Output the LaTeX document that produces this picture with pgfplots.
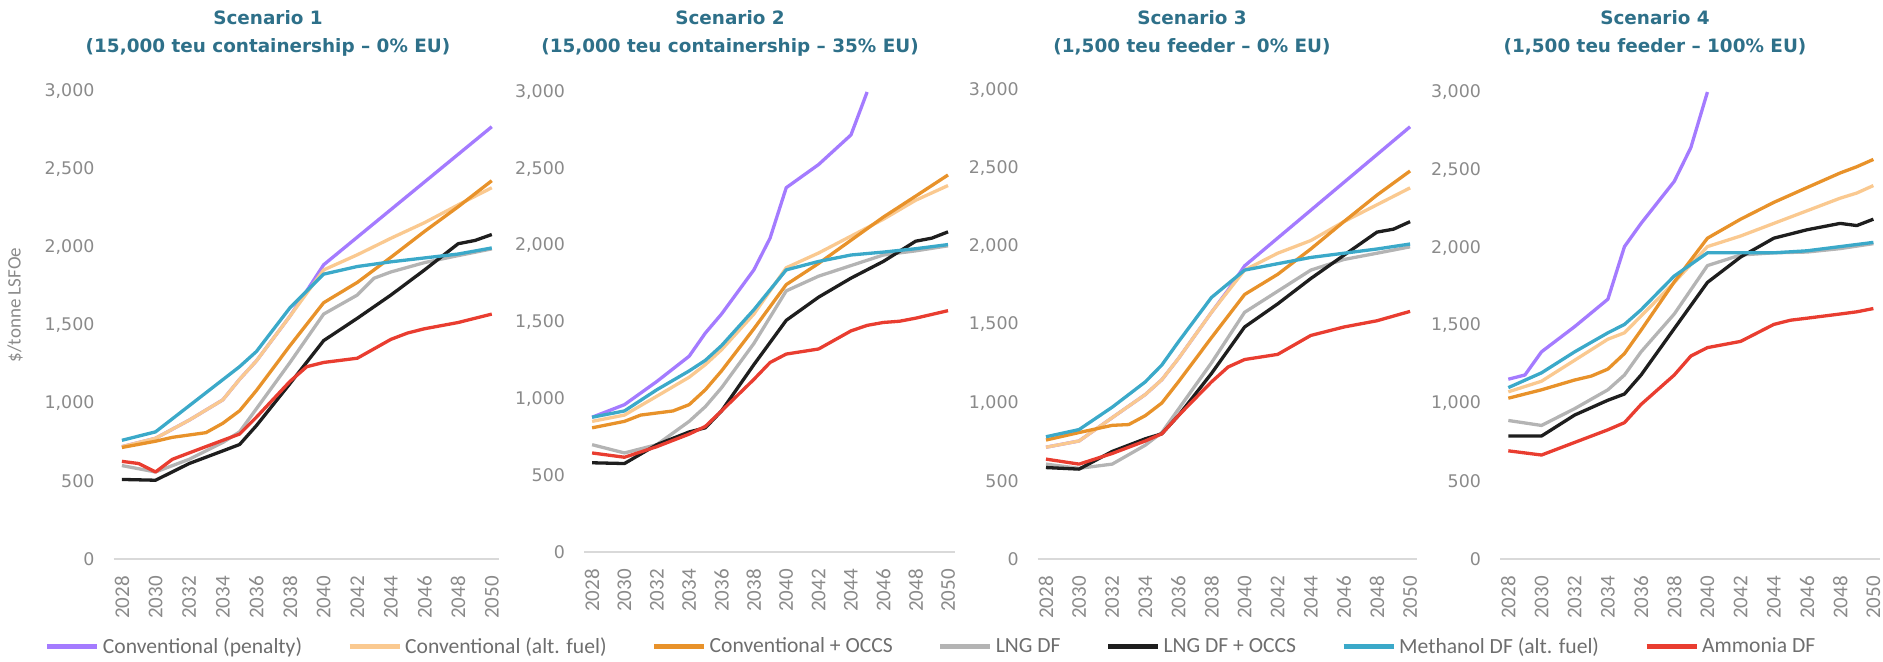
\documentclass[border=0pt]{standalone}
\usepackage{pgfplots}
\pgfplotsset{compat=1.18}
\usepackage{fontspec}
\setmainfont{Carlito}
\newfontfamily\titlefont{DejaVu Sans}
\newfontfamily\tickfont{DejaVu Sans}
\definecolor{cpurple}{HTML}{A47BFF}
\definecolor{clight}{HTML}{FAC990}
\definecolor{corange}{HTML}{E8922A}
\definecolor{cgray}{HTML}{B4B4B4}
\definecolor{cblack}{HTML}{1E1E1E}
\definecolor{ccyan}{HTML}{3BA9C9}
\definecolor{cred}{HTML}{E93D30}
\definecolor{ctitle}{HTML}{2E7089}
\definecolor{ctick}{HTML}{8A8A8A}
\definecolor{caxis}{HTML}{D9D9D9}
\definecolor{clegend}{HTML}{6E6E6E}

\pgfplotsset{
  pan/.style={
    scale only axis,
    anchor=south west,
    xmin=2027.5, xmax=2050.4,
    ymin=0, ymax=3000,
    clip=false,
    axis x line*=bottom, axis y line*=left,
    x axis line style={-, draw=caxis, line width=0.9pt},
    y axis line style={draw=none},
    major tick length=0pt,
    xtick={2028,2030,2032,2034,2036,2038,2040,2042,2044,2046,2048,2050},
    xticklabels={2028,2030,2032,2034,2036,2038,2040,2042,2044,2046,2048,2050},
    ytick={0,500,1000,1500,2000,2500,3000},
    /pgf/number format/.cd, 1000 sep={,}, assume math mode=true, /pgfplots/.cd,
    yticklabel style={font=\tickfont\fontsize{8.7}{10}\selectfont, text=ctick, xshift=-6pt},
    x tick label style={yshift=-5pt, rotate=90, anchor=east, font=\fontsize{10.5}{12}\selectfont, text=ctick},
    every axis plot/.append style={line width=1.65pt, line join=round, mark=none},
  },
}

\begin{document}
\begin{tikzpicture}[x=0.5pt,y=0.5pt]
\useasboundingbox (0,0) rectangle (1883,661);
\coordinate (p1) at (113.5,102);
\coordinate (p2) at (584,109);
\coordinate (p3) at (1037.7,102);
\coordinate (p4) at (1500,102);

% ---------------- Panel 1 ----------------
\begin{axis}[pan, at={(p1)}, width=192.5pt, height=234pt,
  legend columns=7,
  legend style={at={(-0.178,-0.188)}, anchor=west, draw=none, fill=none,
    inner sep=0pt, outer sep=0pt,
    nodes={inner xsep=1.5pt, inner ysep=0pt},
    font=\fontsize{10.8}{12}\selectfont, text=clegend,
    /tikz/every even column/.append style={column sep=21pt}},
  legend cell align=left,
  legend image code/.code={\draw[#1, line width=2.5pt] (0pt,0pt) -- (25pt,0pt);},
]
\addplot[cpurple] coordinates {(2028,720)(2030,774)(2032,890)(2034,1020)(2035,1152)(2036,1270)(2038,1557)(2039,1720)(2040,1886)(2050,2771)};
\addlegendentry{Conventional (penalty)}
\addplot[clight] coordinates {(2028,720)(2030,774)(2032,890)(2034,1020)(2035,1152)(2036,1270)(2038,1557)(2040,1853)(2042,1950)(2044,2056)(2046,2156)(2048,2270)(2050,2380)};
\addlegendentry{Conventional (alt. fuel)}
\addplot[corange] coordinates {(2028,715)(2030,755)(2031,780)(2033,810)(2034,870)(2035,950)(2036,1080)(2038,1368)(2040,1643)(2042,1773)(2044,1934)(2046,2100)(2048,2258)(2050,2425)};
\addlegendentry{Conventional + OCCS}
\addplot[cgray] coordinates {(2028,599)(2030,558)(2032,639)(2034,747)(2035,815)(2036,963)(2038,1260)(2040,1570)(2042,1692)(2043,1800)(2044,1840)(2046,1900)(2048,1945)(2050,1988)};
\addlegendentry{LNG DF}
\addplot[cblack] coordinates {(2028,510)(2030,505)(2032,612)(2034,693)(2035,734)(2036,855)(2038,1125)(2040,1400)(2042,1543)(2044,1692)(2046,1853)(2048,2021)(2049,2042)(2050,2080)};
\addlegendentry{LNG DF + OCCS}
\addplot[ccyan] coordinates {(2028,761)(2030,815)(2035,1233)(2036,1330)(2038,1611)(2040,1826)(2042,1875)(2044,1905)(2046,1930)(2048,1955)(2050,1994)};
\addlegendentry{Methanol DF (alt. fuel)}
\addplot[cred] coordinates {(2028,626)(2029,612)(2030,558)(2031,639)(2032,680)(2034,761)(2035,801)(2036,909)(2038,1139)(2039,1233)(2040,1260)(2042,1287)(2044,1408)(2045,1449)(2046,1476)(2048,1516)(2050,1570)};
\addlegendentry{Ammonia DF}
\end{axis}

% ---------------- Panel 2 ----------------
\begin{axis}[pan, at={(p2)}, width=185.25pt, height=230pt]
\addplot[cpurple] coordinates {(2028,879)(2030,961)(2032,1112)(2034,1277)(2035,1428)(2036,1552)(2038,1840)(2039,2047)(2040,2376)(2042,2527)(2044,2720)(2045,3000)};
\addplot[clight] coordinates {(2028,852)(2030,893)(2032,1016)(2034,1140)(2035,1222)(2036,1319)(2038,1552)(2040,1854)(2042,1950)(2044,2060)(2046,2170)(2048,2294)(2050,2390)};
\addplot[corange] coordinates {(2028,810)(2030,852)(2031,893)(2033,920)(2034,961)(2035,1058)(2036,1181)(2038,1456)(2040,1744)(2042,1882)(2044,2033)(2046,2184)(2048,2321)(2050,2459)};
\addplot[cgray] coordinates {(2028,700)(2030,646)(2032,700)(2034,852)(2035,948)(2036,1071)(2038,1360)(2040,1703)(2042,1799)(2044,1868)(2046,1937)(2048,1964)(2050,1997)};
\addplot[cblack] coordinates {(2028,582)(2030,577)(2032,700)(2034,783)(2035,810)(2036,920)(2038,1222)(2040,1511)(2042,1662)(2044,1786)(2046,1895)(2048,2027)(2049,2047)(2050,2088)};
\addplot[ccyan] coordinates {(2028,879)(2030,920)(2032,1058)(2034,1181)(2035,1250)(2036,1346)(2038,1580)(2040,1840)(2042,1895)(2044,1937)(2046,1956)(2048,1978)(2050,2005)};
\addplot[cred] coordinates {(2028,646)(2030,618)(2032,687)(2034,769)(2035,819)(2036,920)(2038,1126)(2039,1236)(2040,1291)(2042,1324)(2044,1442)(2045,1478)(2046,1497)(2047,1505)(2048,1525)(2050,1574)};
\end{axis}

% ---------------- Panel 3 ----------------
\begin{axis}[pan, at={(p3)}, width=189.5pt, height=234.5pt]
\addplot[cpurple] coordinates {(2028,715)(2030,755)(2032,904)(2034,1052)(2035,1147)(2036,1282)(2038,1578)(2039,1720)(2040,1875)(2050,2765)};
\addplot[clight] coordinates {(2028,715)(2030,755)(2032,904)(2034,1052)(2035,1147)(2036,1282)(2038,1578)(2040,1848)(2042,1956)(2044,2037)(2046,2158)(2048,2266)(2050,2374)};
\addplot[corange] coordinates {(2028,761)(2030,809)(2032,855)(2033,860)(2034,917)(2035,998)(2036,1133)(2038,1416)(2040,1692)(2042,1821)(2044,1983)(2046,2158)(2048,2328)(2050,2482)};
\addplot[cgray] coordinates {(2028,607)(2030,580)(2032,607)(2034,728)(2035,809)(2036,958)(2038,1255)(2040,1578)(2042,1713)(2044,1848)(2046,1916)(2048,1956)(2050,1997)};
\addplot[cblack] coordinates {(2028,585)(2030,575)(2032,688)(2034,769)(2035,801)(2036,917)(2038,1187)(2040,1484)(2042,1632)(2044,1794)(2046,1943)(2048,2091)(2049,2110)(2050,2158)};
\addplot[ccyan] coordinates {(2028,782)(2030,828)(2032,971)(2034,1133)(2035,1241)(2036,1389)(2038,1673)(2040,1848)(2042,1889)(2044,1929)(2046,1956)(2048,1983)(2050,2015)};
\addplot[cred] coordinates {(2028,639)(2030,607)(2032,675)(2034,755)(2035,801)(2036,917)(2038,1133)(2039,1228)(2040,1276)(2042,1309)(2044,1430)(2045,1457)(2046,1484)(2048,1524)(2050,1584)};
\end{axis}

% ---------------- Panel 4 ----------------
\begin{axis}[pan, at={(p4)}, width=190pt, height=233.5pt]
\addplot[cpurple] coordinates {(2028,1155)(2029,1182)(2030,1331)(2032,1493)(2034,1669)(2035,2007)(2036,2156)(2038,2426)(2039,2643)(2040,3000)};
\addplot[clight] coordinates {(2028,1074)(2030,1142)(2032,1277)(2034,1412)(2035,1453)(2036,1561)(2038,1777)(2040,2007)(2042,2075)(2044,2156)(2046,2237)(2048,2318)(2049,2351)(2050,2399)};
\addplot[corange] coordinates {(2028,1033)(2030,1087)(2032,1150)(2033,1175)(2034,1220)(2035,1320)(2036,1470)(2038,1780)(2040,2061)(2042,2183)(2044,2291)(2046,2386)(2048,2480)(2049,2520)(2050,2567)};
\addplot[cgray] coordinates {(2028,890)(2030,858)(2032,966)(2034,1087)(2035,1182)(2036,1331)(2038,1574)(2040,1885)(2042,1953)(2044,1967)(2046,1972)(2048,1994)(2050,2026)};
\addplot[cblack] coordinates {(2028,790)(2030,790)(2032,925)(2034,1020)(2035,1060)(2036,1182)(2038,1480)(2040,1777)(2042,1940)(2044,2061)(2046,2115)(2048,2156)(2049,2142)(2050,2183)};
\addplot[ccyan] coordinates {(2028,1101)(2030,1196)(2032,1331)(2034,1453)(2035,1507)(2036,1601)(2038,1818)(2040,1967)(2042,1967)(2044,1967)(2046,1980)(2048,2007)(2050,2034)};
\addplot[cred] coordinates {(2028,695)(2030,668)(2032,749)(2034,830)(2035,876)(2036,993)(2038,1182)(2039,1304)(2040,1358)(2042,1398)(2044,1507)(2045,1534)(2046,1547)(2048,1574)(2049,1588)(2050,1609)};
\end{axis}

% ---------------- Titles and y label ----------------
\tikzset{ttl/.style={font=\titlefont\bfseries\fontsize{9.2}{11}\selectfont, text=ctitle, inner sep=0pt}}
\node[ttl] at (268,643) {Scenario 1};
\node[ttl] at (268,614) {(15,000 teu containership – 0\% EU)};
\node[ttl] at (730,643) {Scenario 2};
\node[ttl] at (730,614) {(15,000 teu containership – 35\% EU)};
\node[ttl] at (1192,643) {Scenario 3};
\node[ttl] at (1192,614) {(1,500 teu feeder – 0\% EU)};
\node[ttl] at (1655,643) {Scenario 4};
\node[ttl] at (1655,614) {(1,500 teu feeder – 100\% EU)};
\node[rotate=90, font=\fontsize{9.5}{11}\selectfont, text=ctick, inner sep=0pt] at (15,356) {\$/tonne LSFOe};
\end{tikzpicture}
\end{document}
